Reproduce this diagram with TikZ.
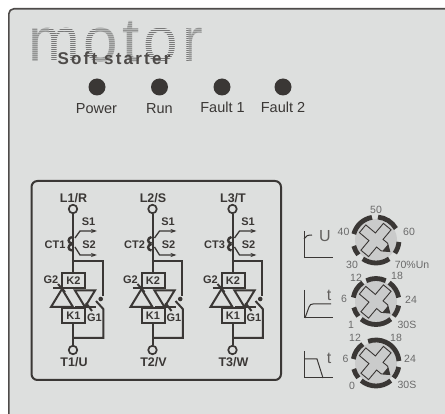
\documentclass[tikz,border=0pt]{standalone}
\usepackage{fontspec}
\setmainfont{Liberation Sans}
\newfontface\softfont[LetterSpace=13]{Liberation Sans Bold}
\newfontface\logofont[LetterSpace=6.5]{Liberation Sans}
\usetikzlibrary{arrows.meta}
\definecolor{panelc}{HTML}{DDDFDE}
\definecolor{inkc}{HTML}{3A3735}
\definecolor{knobc}{HTML}{CACBCB}
\definecolor{numc}{HTML}{6A6A6A}
\tikzset{
  wire/.style={draw=inkc,line width=2pt},
  thin wire/.style={draw=inkc,line width=1.3pt},
  lbl/.style={inner sep=0pt,text=inkc,font=\fontsize{11}{11}\selectfont\bfseries},
  biglbl/.style={inner sep=0pt,text=inkc,font=\fontsize{12.5}{13}\selectfont\bfseries},
  ledlbl/.style={inner sep=0pt,text=inkc,font=\fontsize{14.5}{15}\selectfont},
  numlbl/.style={inner sep=0pt,text=numc,font=\fontsize{10.5}{11}\selectfont},
  graphlbl/.style={inner sep=0pt,text=inkc!80,font=\fontsize{16}{16}\selectfont},
  led/.style={circle,fill=inkc,minimum size=17pt,inner sep=0pt},
  term/.style={circle,draw=inkc,line width=1.7pt,fill=panelc,minimum size=8.5pt,inner sep=0pt},
  kbox/.style={rectangle,draw=inkc,line width=2pt,fill=panelc,minimum width=23pt,minimum height=15pt,inner sep=0pt,text=inkc,font=\fontsize{11}{11}\selectfont\bfseries},
  axis/.style={draw=inkc,line width=1pt}
}
% #1 index, #2 x offset, #3 top label, #4 bottom label
\newcommand{\phasegroup}[4]{%
\begin{scope}[xshift=#2pt]
  \node[biglbl] (top#1) at (73.5,198) {#3};
  \node[biglbl] (bot#1) at (74,362) {#4};
  \node[term] (L#1) at (73,209) {};
  \node[term] (T#1) at (73,350) {};
  \node[kbox] (KB#1) at (73.5,280.5) {K2};
  \node[kbox] (KA#1) at (73.5,315.5) {K1};
  \node[lbl] (S#1a) at (88.5,222) {S1};
  \node[lbl] (S#1b) at (89,245) {S2};
  \node[lbl] (CT#1) at (55,245) {CT#1};
  \coordinate (J#1a) at (73,261);
  \coordinate (J#1b) at (73,338);
  \draw[wire] (L#1) -- (KB#1.north -| L#1);
  \draw[wire] (KA#1.south -| T#1) -- (T#1);
  % current transformer
  \draw[inkc,line width=2.4pt] (72,237) .. controls (67.5,238) and (67.5,243) .. (72,243.5);
  \draw[inkc,line width=2.4pt] (72,244) .. controls (67.5,245) and (67.5,250) .. (72,250.5);
  \draw[thin wire,-{Stealth[length=6pt,width=4pt]}] (75,238) -- (80,231) -- (97,231);
  \draw[thin wire,-{Stealth[length=6pt,width=4pt]}] (75,247) -- (80,255) -- (97,255);
  % thyristors
  \draw[wire,fill=panelc,line join=miter] (62,289) -- (73,307) -- (51,307) -- cycle;
  \draw[wire,fill=panelc] (85,307) -- (75,290.5) -- (95,290.5) -- cycle;
  \draw[wire] (53,288.5) -- (72,288.5);
  \draw[wire] (75,307) -- (96,307);
  \draw[wire] (58,284) -- (65,292);
  \draw[wire] (86,303) -- (92,311);
  \node[lbl] (G#1b) at (51,279.5) {G2};
  \node[lbl] (G#1a) at (94.5,318) {G1};
  % gate loop
  \draw[wire] (J#1a) -- (102.7,261) -- (102.7,296);
  \fill[inkc] (100.7,299) circle[radius=2.3];
  \draw[wire] (96,301) -- (103.3,309) -- (103.3,338) -- (J#1b);
\end{scope}}
% #1 name, #2 x, #3 y, #4 ring segments
\newcommand{\dial}[4]{%
\begin{scope}[shift={(#2,#3)},yscale=-1]
  \fill[knobc] (0,0) circle[radius=21];
  \foreach \a/\b in {#4}{
    \draw[inkc,line width=4.8pt] (\a:23) arc[start angle=\a,end angle=\b,radius=23];
  }
  \begin{scope}[rotate=40]
    \draw[inkc,line width=0.9pt,fill=knobc,line join=miter]
      (5,5) -- (11,5) -- (18,0) -- (11,-5) -- (5,-5) -- (5,-17.5) -- (-5,-17.5)
      -- (-5,-5) -- (-17.5,-5) -- (-17.5,5) -- (-5,5) -- (-5,17.5) -- (5,17.5) -- cycle;
    \fill[inkc] (12,4.4) -- (18,0) -- (12,-4.4) -- cycle;
  \end{scope}
\end{scope}}
\begin{document}
\begin{tikzpicture}[x=1pt,y=-1pt]
\useasboundingbox (0,0) rectangle (445,414);
\fill[white] (0,0) rectangle (445,414);
\begin{scope}
  \clip (0,0) rectangle (445,414);
  \fill[panelc,rounded corners=5pt] (460,8.8) -- (8.8,8.8) -- (8.8,430) -- (460,430) -- cycle;
  \draw[draw=inkc!90,line width=1.6pt,rounded corners=5pt] (460,8.8) -- (8.8,8.8) -- (8.8,430);
\end{scope}
% logo
\node[inner sep=0pt,text=numc,font=\fontsize{62}{62}\selectfont\logofont,anchor=base west] (logo) at (28,62) {motor};
\foreach \yy in {20,22,...,66}{
  \draw[panelc,line width=1pt] (26,\yy+1) -- (212,\yy-1);
}
\node[inner sep=0pt,text=inkc!90,font=\fontsize{17}{17}\selectfont\softfont,anchor=base] (soft) at (114,64.5) {Soft starter};
% LEDs
\node[led] (led1) at (97,87) {};
\node[led] (led2) at (159.5,87) {};
\node[led] (led3) at (222,87) {};
\node[led] (led4) at (283,87) {};
\node[ledlbl] (t1) at (96.5,108.5) {Power};
\node[ledlbl] (t2) at (159.5,108.5) {Run};
\node[ledlbl] (t3) at (222.5,107) {Fault 1};
\node[ledlbl] (t4) at (283,107) {Fault 2};
% circuit box
\draw[draw=inkc,line width=2pt,rounded corners=6pt] (31.5,181) rectangle (281,380);
\phasegroup{1}{0}{L1/R}{T1/U}
\phasegroup{2}{79.5}{L2/S}{T2/V}
\phasegroup{3}{159.5}{L3/T}{T3/W}
% small graphs
\draw[axis] (304,231) -- (304,257.5) -- (333,257.5);
\draw[axis] (304,239) .. controls (305,236) and (308,235) .. (312,235);
\node[graphlbl] (gU) at (325,236) {U};
\draw[axis] (304,290) -- (304,318) -- (333,318);
\draw[axis] (305,318) -- (309,307) .. controls (310,304.5) and (311,304) .. (313,304) -- (331,304);
\node[graphlbl] (gt1) at (329,295) {t};
\draw[axis] (304,351) -- (304,378) -- (333,378);
\draw[axis] (304,359) -- (317,359) -- (323,378);
\node[graphlbl] (gt2) at (329,358) {t};
% dials
\dial{a}{376}{240}{{100/165},{30/85},{-35/-5},{-125/-55},{195/220}}
\dial{b}{376}{301.5}{{65/115},{125/170},{10/55},{-40/-10},{-130/-50},{195/220}}
\dial{c}{376}{363}{{125/170},{5/110},{-40/-10},{-130/-50},{195/220}}
\node[numlbl] at (376,209.5) {50};
\node[numlbl] at (343.5,232) {40};
\node[numlbl] at (409,232) {60};
\node[numlbl] at (352,264.5) {30};
\node[numlbl] at (412,264.5) {70\%Un};
\node[numlbl] at (356,277.5) {12};
\node[numlbl] at (397,276) {18};
\node[numlbl] at (344,298.5) {6};
\node[numlbl] at (411,299.5) {24};
\node[numlbl] at (351,324.5) {1};
\node[numlbl] at (407,324.5) {30S};
\node[numlbl] at (355,338) {12};
\node[numlbl] at (396,338) {18};
\node[numlbl] at (345.5,359) {6};
\node[numlbl] at (410,359) {24};
\node[numlbl] at (352,386) {0};
\node[numlbl] at (407,385) {30S};
\end{tikzpicture}
\end{document}
